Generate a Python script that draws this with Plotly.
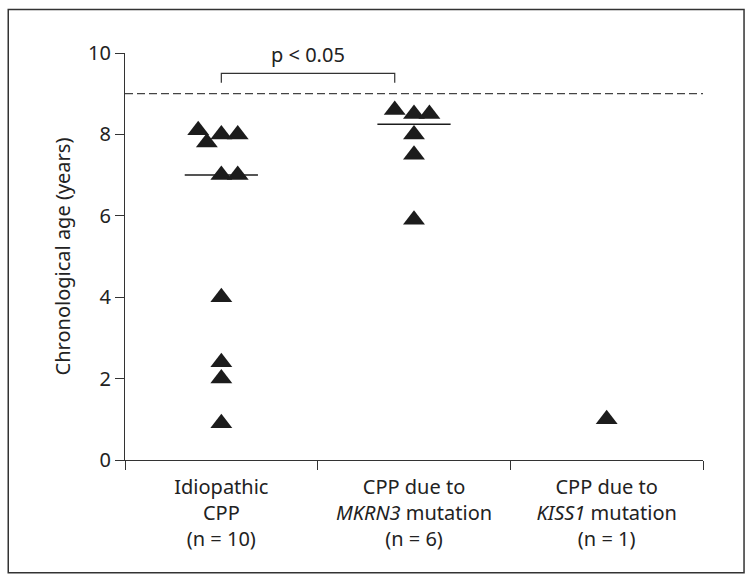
import numpy as np
import plotly.graph_objects as go

# ---- data ----
categories = ["Idiopathic<br>CPP<br>(n = 10)",
              "CPP due to<br><i>MKRN3</i> mutation<br>(n = 6)",
              "CPP due to<br><i>KISS1</i> mutation<br>(n = 1)"]
idiopathic_age = [8.1, 7.8, 8.0, 8.0, 7.0, 7.0, 4.0, 2.4, 2.0, 0.9]
idiopathic_jitter = [-0.12, -0.075, 0.0, 0.085, 0.0, 0.085, 0.0, 0.0, 0.0, 0.0]
mkrn3_age = [8.6, 8.5, 8.5, 8.0, 7.5, 5.9]
mkrn3_jitter = [-0.1, 0.0, 0.08, 0.0, 0.0, 0.0]
kiss1_age = [1.0]
kiss1_jitter = [0.0]
reference_age = 9.0
y_ticks = [0, 2, 4, 6, 8, 10]
p_text = "p < 0.05"

groups = [(idiopathic_age, idiopathic_jitter),
          (mkrn3_age, mkrn3_jitter),
          (kiss1_age, kiss1_jitter)]

FONT = "Noto Sans"
INK = "#1c1c1c"

fig = go.Figure()
for i, (ages, jit) in enumerate(groups):
    fig.add_trace(go.Scatter(
        x=[i + j for j in jit], y=ages, mode="markers",
        marker=dict(symbol="triangle-up", size=19, color=INK,
                    line=dict(width=0)),
        showlegend=False, hoverinfo="y"))

shapes = []
# median lines for groups with n > 1
for i, (ages, _) in enumerate(groups):
    if len(ages) > 1:
        m = float(np.median(ages))
        shapes.append(dict(type="line", xref="x", yref="y",
                           x0=i - 0.19, x1=i + 0.19, y0=m, y1=m,
                           line=dict(color=INK, width=1.5)))
# reference dashed line
shapes.append(dict(type="line", xref="paper", yref="y", x0=0, x1=1,
                   y0=reference_age, y1=reference_age,
                   line=dict(color="#444444", width=1.2, dash="8px,4px")))
# significance bracket
br_top, br_leg = 9.5, 9.27
shapes.append(dict(type="path", xref="x", yref="y",
                   path=f"M 0,{br_leg} L 0,{br_top} L 0.9,{br_top} L 0.9,{br_leg}",
                   line=dict(color="#333333", width=1.2)))
# outer border
shapes.append(dict(type="rect", xref="paper", yref="paper",
                   x0=-0.202, x1=1.071, y0=-0.277, y1=1.107,
                   line=dict(color="#333333", width=1.5)))

fig.update_layout(
    width=754, height=584,
    margin=dict(l=125, r=51, t=53, b=124),
    paper_bgcolor="white", plot_bgcolor="white",
    font=dict(family=FONT, size=20, color="#222222"),
    shapes=shapes,
    annotations=[dict(text=p_text, x=0.45, y=br_top, xref="x", yref="y",
                      yanchor="bottom", yshift=3, showarrow=False,
                      font=dict(family=FONT, size=20, color="#222222"))],
    xaxis=dict(range=[-0.5, 2.5], tickvals=[0, 1, 2], ticktext=categories,
               ticks="", showgrid=False, zeroline=False,
               showline=True, linecolor="#333333", linewidth=1.2,
               tickfont=dict(size=20), ticklabelstandoff=9,
               minor=dict(tickvals=[-0.5, 0.5, 1.5, 2.5], ticks="outside",
                          ticklen=9, tickcolor="#333333", tickwidth=1.2,
                          showgrid=False)),
    yaxis=dict(range=[0, 10], tickvals=y_ticks, ticks="outside", ticklen=9,
               tickcolor="#333333", tickwidth=1.2, showgrid=False,
               zeroline=False, showline=True, linecolor="#333333",
               linewidth=1.2, tickfont=dict(size=20),
               title=dict(text="Chronological age (years)", standoff=12,
                          font=dict(size=20))),
)

fig.write_html("out.html", config={"displayModeBar": False},
               post_script="document.body.style.margin='0';")
